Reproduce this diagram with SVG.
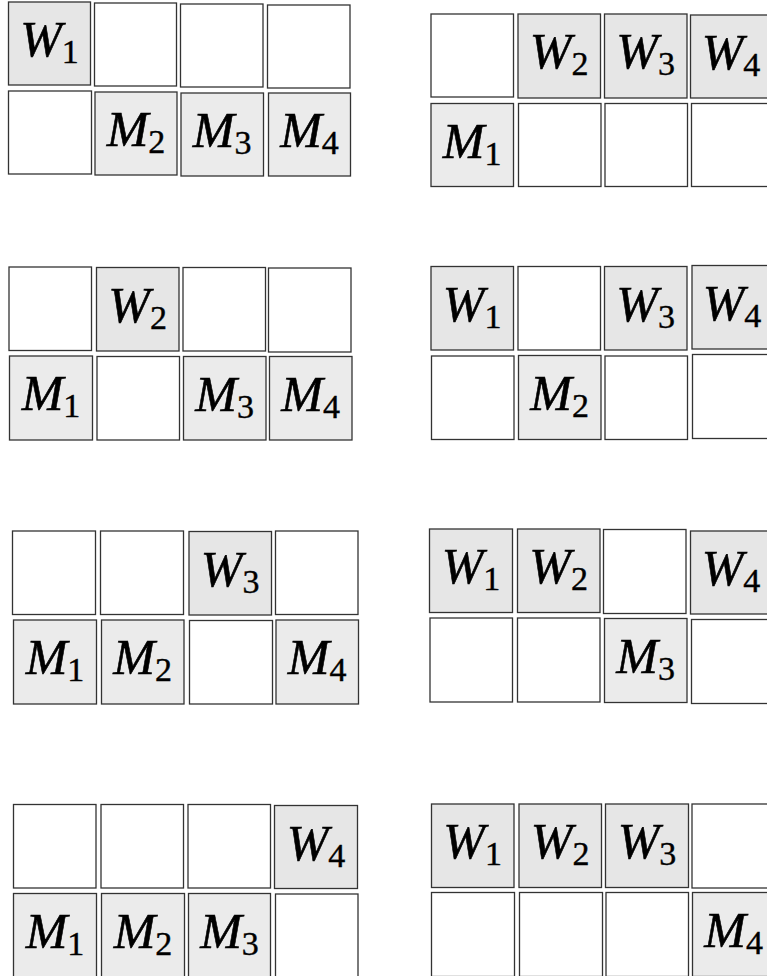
<svg xmlns="http://www.w3.org/2000/svg" width="767" height="976" viewBox="0 0 767 976">
<style>
rect{stroke:#333;stroke-width:1.3}
.e{fill:#ffffff}
.w{fill:#e6e6e6}
.m{fill:#ebebeb}
text{font-family:"Liberation Serif","DejaVu Serif",serif;font-style:italic;font-size:50px;fill:#000;stroke:#000;stroke-width:0.6;text-anchor:middle}
.s{font-style:normal;font-size:34px;stroke-width:0.4}
</style>
<rect x="0" y="0" width="767" height="976" fill="#fff" style="stroke:none"/>
<g id="grid1">
<g id="g1-r1c1"><rect class="w" x="8.5" y="2" width="82" height="83"/><text x="49.5" y="56">W<tspan class="s" dy="7">1</tspan></text></g>
<g id="g1-r1c2"><rect class="e" x="94.5" y="3" width="82" height="83"/></g>
<g id="g1-r1c3"><rect class="e" x="180.5" y="4" width="82.5" height="83"/></g>
<g id="g1-r1c4"><rect class="e" x="267.5" y="5" width="82.5" height="83"/></g>
<g id="g1-r2c1"><rect class="e" x="8.5" y="91" width="83" height="83"/></g>
<g id="g1-r2c2"><rect class="m" x="95" y="92" width="82" height="83"/><text x="136" y="146">M<tspan class="s" dy="7">2</tspan></text></g>
<g id="g1-r2c3"><rect class="m" x="181" y="93" width="82.5" height="83"/><text x="222.2" y="147">M<tspan class="s" dy="7">3</tspan></text></g>
<g id="g1-r2c4"><rect class="m" x="268.5" y="93" width="82" height="83"/><text x="309.5" y="147">M<tspan class="s" dy="7">4</tspan></text></g>
</g>
<g id="grid2">
<g id="g2-r1c1"><rect class="e" x="431" y="14" width="82.5" height="83"/></g>
<g id="g2-r1c2"><rect class="w" x="518" y="14" width="82.5" height="84"/><text x="559.2" y="68">W<tspan class="s" dy="7">2</tspan></text></g>
<g id="g2-r1c3"><rect class="w" x="604.5" y="14" width="82.5" height="84"/><text x="645.7" y="68">W<tspan class="s" dy="7">3</tspan></text></g>
<g id="g2-r1c4"><rect class="w" x="690.5" y="15" width="83" height="83"/><text x="731" y="69">W<tspan class="s" dy="7">4</tspan></text></g>
<g id="g2-r2c1"><rect class="m" x="431" y="103.5" width="82.5" height="83"/><text x="472.2" y="157.5">M<tspan class="s" dy="7">1</tspan></text></g>
<g id="g2-r2c2"><rect class="e" x="518.5" y="103.5" width="82.5" height="83"/></g>
<g id="g2-r2c3"><rect class="e" x="605" y="103.5" width="82.5" height="83"/></g>
<g id="g2-r2c4"><rect class="e" x="691.5" y="103.5" width="83" height="83"/></g>
</g>
<g id="grid3">
<g id="g3-r1c1"><rect class="e" x="9" y="267" width="82.5" height="83.5"/></g>
<g id="g3-r1c2"><rect class="w" x="96.5" y="267.5" width="82.5" height="83.5"/><text x="137.7" y="321.5">W<tspan class="s" dy="7">2</tspan></text></g>
<g id="g3-r1c3"><rect class="e" x="183" y="267.5" width="82.5" height="83.5"/></g>
<g id="g3-r1c4"><rect class="e" x="268.5" y="268" width="82.5" height="84"/></g>
<g id="g3-r2c1"><rect class="m" x="9.5" y="356" width="83" height="84"/><text x="51" y="410">M<tspan class="s" dy="7">1</tspan></text></g>
<g id="g3-r2c2"><rect class="e" x="97" y="356.5" width="82.5" height="83.5"/></g>
<g id="g3-r2c3"><rect class="m" x="183.5" y="356.5" width="82.5" height="83.5"/><text x="224.7" y="410.5">M<tspan class="s" dy="7">3</tspan></text></g>
<g id="g3-r2c4"><rect class="m" x="269.5" y="356.5" width="82.5" height="83.5"/><text x="310.7" y="410.5">M<tspan class="s" dy="7">4</tspan></text></g>
</g>
<g id="grid4">
<g id="g4-r1c1"><rect class="w" x="431" y="266.5" width="82.5" height="83.5"/><text x="472.2" y="320.5">W<tspan class="s" dy="7">1</tspan></text></g>
<g id="g4-r1c2"><rect class="e" x="518" y="266.5" width="82.5" height="83.5"/></g>
<g id="g4-r1c3"><rect class="w" x="604.5" y="266.5" width="82.5" height="83.5"/><text x="645.7" y="320.5">W<tspan class="s" dy="7">3</tspan></text></g>
<g id="g4-r1c4"><rect class="w" x="692" y="265.5" width="82.5" height="83.5"/><text x="732" y="319.5">W<tspan class="s" dy="7">4</tspan></text></g>
<g id="g4-r2c1"><rect class="e" x="431.5" y="356" width="82.5" height="83.5"/></g>
<g id="g4-r2c2"><rect class="m" x="518.5" y="355.5" width="82.5" height="84"/><text x="559.7" y="409.5">M<tspan class="s" dy="7">2</tspan></text></g>
<g id="g4-r2c3"><rect class="e" x="605" y="356" width="82.5" height="83.5"/></g>
<g id="g4-r2c4"><rect class="e" x="692.5" y="354.5" width="82.5" height="84"/></g>
</g>
<g id="grid5">
<g id="g5-r1c1"><rect class="e" x="12.5" y="531" width="83" height="83.5"/></g>
<g id="g5-r1c2"><rect class="e" x="100.5" y="531" width="83" height="83.5"/></g>
<g id="g5-r1c3"><rect class="w" x="189" y="531.5" width="82.5" height="83.5"/><text x="230.2" y="585.5">W<tspan class="s" dy="7">3</tspan></text></g>
<g id="g5-r1c4"><rect class="e" x="275.5" y="531" width="82.5" height="83.5"/></g>
<g id="g5-r2c1"><rect class="m" x="13.5" y="620" width="83" height="84"/><text x="55" y="674">M<tspan class="s" dy="7">1</tspan></text></g>
<g id="g5-r2c2"><rect class="m" x="101.5" y="620" width="82.5" height="84"/><text x="142.7" y="674">M<tspan class="s" dy="7">2</tspan></text></g>
<g id="g5-r2c3"><rect class="e" x="189.5" y="620.5" width="83" height="83.5"/></g>
<g id="g5-r2c4"><rect class="m" x="276" y="620" width="82.5" height="84"/><text x="317.2" y="674">M<tspan class="s" dy="7">4</tspan></text></g>
</g>
<g id="grid6">
<g id="g6-r1c1"><rect class="w" x="429.5" y="529" width="83" height="83.5"/><text x="471" y="583">W<tspan class="s" dy="7">1</tspan></text></g>
<g id="g6-r1c2"><rect class="w" x="517.5" y="529" width="82.5" height="83.5"/><text x="558.7" y="583">W<tspan class="s" dy="7">2</tspan></text></g>
<g id="g6-r1c3"><rect class="e" x="603.5" y="529.5" width="82.5" height="84"/></g>
<g id="g6-r1c4"><rect class="w" x="690.5" y="531" width="82.5" height="83"/><text x="731" y="585">W<tspan class="s" dy="7">4</tspan></text></g>
<g id="g6-r2c1"><rect class="e" x="430" y="618" width="82.5" height="84"/></g>
<g id="g6-r2c2"><rect class="e" x="517.5" y="618" width="82.5" height="84"/></g>
<g id="g6-r2c3"><rect class="m" x="604.5" y="618.5" width="82.5" height="84"/><text x="645.7" y="672.5">M<tspan class="s" dy="7">3</tspan></text></g>
<g id="g6-r2c4"><rect class="e" x="691.5" y="619.5" width="82.5" height="84"/></g>
</g>
<g id="grid7">
<g id="g7-r1c1"><rect class="e" x="13.5" y="804.5" width="82.5" height="83.5"/></g>
<g id="g7-r1c2"><rect class="e" x="101" y="804.5" width="82.5" height="83.5"/></g>
<g id="g7-r1c3"><rect class="e" x="188" y="804.5" width="82.5" height="83.5"/></g>
<g id="g7-r1c4"><rect class="w" x="274.5" y="805.5" width="83" height="83"/><text x="316" y="859.5">W<tspan class="s" dy="7">4</tspan></text></g>
<g id="g7-r2c1"><rect class="m" x="13.5" y="893.5" width="83" height="84"/><text x="55" y="947.5">M<tspan class="s" dy="7">1</tspan></text></g>
<g id="g7-r2c2"><rect class="m" x="101.5" y="893.5" width="83" height="84"/><text x="143" y="947.5">M<tspan class="s" dy="7">2</tspan></text></g>
<g id="g7-r2c3"><rect class="m" x="188.5" y="893.5" width="82" height="84"/><text x="229.5" y="947.5">M<tspan class="s" dy="7">3</tspan></text></g>
<g id="g7-r2c4"><rect class="e" x="275.5" y="894" width="82.5" height="84"/></g>
</g>
<g id="grid8">
<g id="g8-r1c1"><rect class="w" x="431.5" y="804" width="82.5" height="83.5"/><text x="472.7" y="858">W<tspan class="s" dy="7">1</tspan></text></g>
<g id="g8-r1c2"><rect class="w" x="519" y="804" width="82.5" height="83.5"/><text x="560.2" y="858">W<tspan class="s" dy="7">2</tspan></text></g>
<g id="g8-r1c3"><rect class="w" x="605.5" y="804" width="83" height="83.5"/><text x="647" y="858">W<tspan class="s" dy="7">3</tspan></text></g>
<g id="g8-r1c4"><rect class="e" x="692" y="804" width="82.5" height="84"/></g>
<g id="g8-r2c1"><rect class="e" x="431.5" y="892.5" width="83" height="84"/></g>
<g id="g8-r2c2"><rect class="e" x="519.5" y="892.5" width="83" height="84"/></g>
<g id="g8-r2c3"><rect class="e" x="606" y="892.5" width="82.5" height="84"/></g>
<g id="g8-r2c4"><rect class="m" x="692.5" y="892.5" width="82.5" height="84"/><text x="733.7" y="946.5">M<tspan class="s" dy="7">4</tspan></text></g>
</g>
<g id="connectors"/>
</svg>
